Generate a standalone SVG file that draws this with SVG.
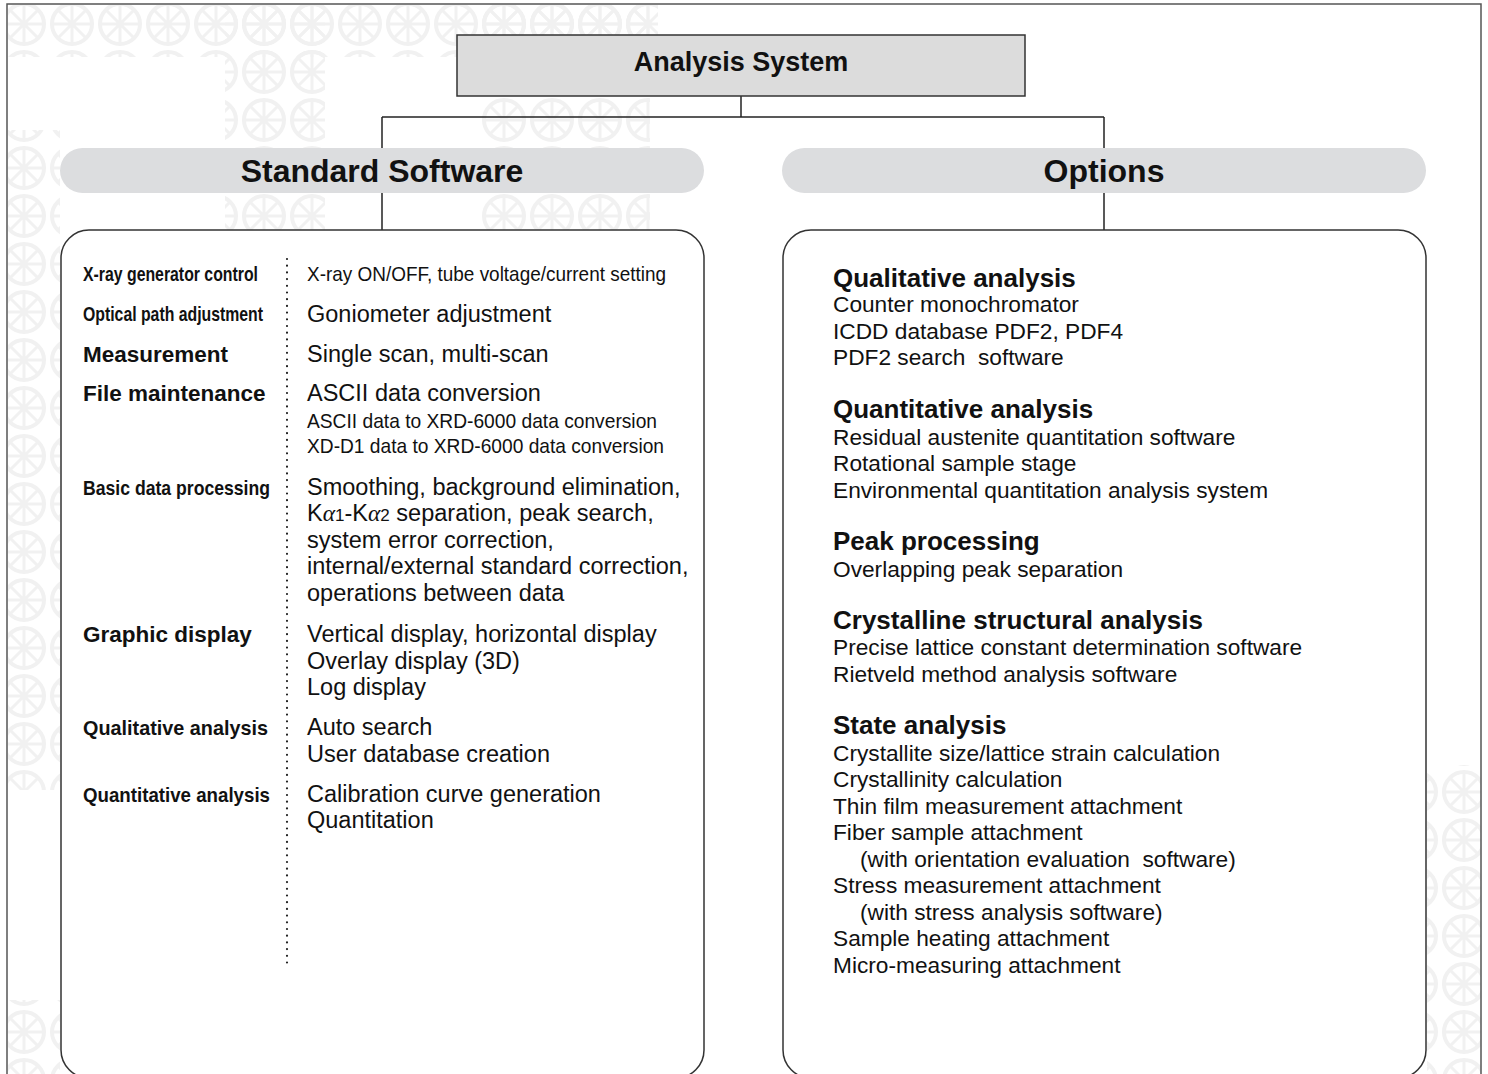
<svg xmlns="http://www.w3.org/2000/svg" width="1488" height="1074" viewBox="0 0 1488 1074">
  <style>
    text { font-family: "Liberation Sans", Arial, sans-serif; fill: #111; }
    .title { font-size: 27px; font-weight: bold; text-anchor: middle; }
    .head { font-size: 32px; font-weight: bold; text-anchor: middle; }
    .lbl { font-size: 22.5px; font-weight: bold; }
    .lblc { font-size: 21px; font-weight: bold; }
    .item { font-size: 23.5px; }
    .itemc { font-size: 21px; }
    .opt { font-size: 26px; font-weight: bold; }
    .optitem { font-size: 22.7px; }
    .line { stroke: #222; stroke-width: 1.5; fill: none; }
    .pill { fill: #dcdddf; stroke: none; }
    .panel { fill: #fff; stroke: #333; stroke-width: 1.5; }
  </style>
  <defs>
    <pattern id="lattice" x="0" y="0" width="48" height="48" patternUnits="userSpaceOnUse">
      <g fill="none" stroke="#f1f1f1">
        <circle cx="24" cy="24" r="20" stroke-width="4"/>
        <path d="M24 4 V44 M4 24 H44 M10 10 L38 38 M38 10 L10 38" stroke-width="3"/>
      </g>
    </pattern>
  </defs>

  <rect width="1488" height="1074" fill="#fff"/>

  <!-- faint decorative lattice in the background -->
  <g id="backdrop" fill="url(#lattice)">
    <rect x="8" y="5" width="650" height="52"/>
    <rect x="225" y="5" width="100" height="225"/>
    <rect x="480" y="5" width="170" height="225"/>
    <rect x="8" y="130" width="52" height="660"/>
    <rect x="8" y="1000" width="52" height="74"/>
    <rect x="1427" y="765" width="54" height="309"/>
  </g>

  <!-- outer frame -->
  <path d="M7 1074 V4 H1481 V1074" fill="none" stroke="#555" stroke-width="1.5"/>

  <!-- connectors -->
  <g id="connectors" class="line">
    <path d="M741 96 V117"/>
    <path d="M382 117 H1104"/>
    <path d="M382 117 V230"/>
    <path d="M1104 117 V230"/>
  </g>

  <g id="analysis-system">
    <rect x="457" y="35" width="568" height="61" fill="#dcdcdc" stroke="#333" stroke-width="1.5"/>
    <text class="title" x="741" y="71">Analysis System</text>
  </g>

  <g id="standard-software-header">
    <rect class="pill" x="60" y="148" width="644" height="45" rx="22.5"/>
    <text class="head" x="382" y="182">Standard Software</text>
  </g>

  <g id="options-header">
    <rect class="pill" x="782" y="148" width="644" height="45" rx="22.5"/>
    <text class="head" x="1104" y="182">Options</text>
  </g>

  <g id="standard-software">
    <rect class="panel" x="61" y="230" width="643" height="848" rx="28"/>
    <line x1="287" y1="259" x2="287" y2="966" stroke="#222" stroke-width="2.2" stroke-linecap="round" stroke-dasharray="0 6.7"/>

    <text class="lblc" x="83" y="281" textLength="175" lengthAdjust="spacingAndGlyphs">X-ray generator control</text>
    <text class="itemc" x="307" y="281" textLength="359" lengthAdjust="spacingAndGlyphs">X-ray ON/OFF, tube voltage/current setting</text>

    <text class="lblc" x="83" y="321" textLength="180" lengthAdjust="spacingAndGlyphs">Optical path adjustment</text>
    <text class="item" x="307" y="322">Goniometer adjustment</text>

    <text class="lbl" x="83" y="362">Measurement</text>
    <text class="item" x="307" y="362">Single scan, multi-scan</text>

    <text class="lbl" x="83" y="401">File maintenance</text>
    <text class="item" x="307" y="401">ASCII data conversion</text>
    <text class="itemc" x="307" y="428" textLength="350" lengthAdjust="spacingAndGlyphs">ASCII data to XRD-6000 data conversion</text>
    <text class="itemc" x="307" y="453" textLength="357" lengthAdjust="spacingAndGlyphs">XD-D1 data to XRD-6000 data conversion</text>

    <text class="lblc" x="83" y="495" textLength="187" lengthAdjust="spacingAndGlyphs">Basic data processing</text>
    <text class="item" x="307" y="495">Smoothing, background elimination,</text>
    <text class="item" x="307" y="521">K<tspan font-family="'Liberation Serif', serif" font-style="italic">α</tspan><tspan font-size="17">1</tspan>-K<tspan font-family="'Liberation Serif', serif" font-style="italic">α</tspan><tspan font-size="17">2</tspan> separation, peak search,</text>
    <text class="item" x="307" y="548">system error correction,</text>
    <text class="item" x="307" y="574">internal/external standard correction,</text>
    <text class="item" x="307" y="601">operations between data</text>

    <text class="lbl" x="83" y="642">Graphic display</text>
    <text class="item" x="307" y="642">Vertical display, horizontal display</text>
    <text class="item" x="307" y="669">Overlay display (3D)</text>
    <text class="item" x="307" y="695">Log display</text>

    <text class="lblc" x="83" y="735" textLength="185" lengthAdjust="spacingAndGlyphs">Qualitative analysis</text>
    <text class="item" x="307" y="735">Auto search</text>
    <text class="item" x="307" y="762">User database creation</text>

    <text class="lblc" x="83" y="802" textLength="187" lengthAdjust="spacingAndGlyphs">Quantitative analysis</text>
    <text class="item" x="307" y="802">Calibration curve generation</text>
    <text class="item" x="307" y="828">Quantitation</text>
  </g>

  <g id="options">
    <rect class="panel" x="783" y="230" width="643" height="848" rx="28"/>

    <text class="opt" x="833" y="287">Qualitative analysis</text>
    <text class="optitem" x="833" y="312">Counter monochromator</text>
    <text class="optitem" x="833" y="339">ICDD database PDF2, PDF4</text>
    <text class="optitem" x="833" y="365" xml:space="preserve">PDF2 search  software</text>

    <text class="opt" x="833" y="418">Quantitative analysis</text>
    <text class="optitem" x="833" y="445">Residual austenite quantitation software</text>
    <text class="optitem" x="833" y="471">Rotational sample stage</text>
    <text class="optitem" x="833" y="498">Environmental quantitation analysis system</text>

    <text class="opt" x="833" y="550">Peak processing</text>
    <text class="optitem" x="833" y="577">Overlapping peak separation</text>

    <text class="opt" x="833" y="629">Crystalline structural analysis</text>
    <text class="optitem" x="833" y="655">Precise lattice constant determination software</text>
    <text class="optitem" x="833" y="682">Rietveld method analysis software</text>

    <text class="opt" x="833" y="734">State analysis</text>
    <text class="optitem" x="833" y="761">Crystallite size/lattice strain calculation</text>
    <text class="optitem" x="833" y="787">Crystallinity calculation</text>
    <text class="optitem" x="833" y="814">Thin film measurement attachment</text>
    <text class="optitem" x="833" y="840">Fiber sample attachment</text>
    <text class="optitem" x="860" y="867" xml:space="preserve">(with orientation evaluation  software)</text>
    <text class="optitem" x="833" y="893">Stress measurement attachment</text>
    <text class="optitem" x="860" y="920">(with stress analysis software)</text>
    <text class="optitem" x="833" y="946">Sample heating attachment</text>
    <text class="optitem" x="833" y="973">Micro-measuring attachment</text>
  </g>
</svg>
